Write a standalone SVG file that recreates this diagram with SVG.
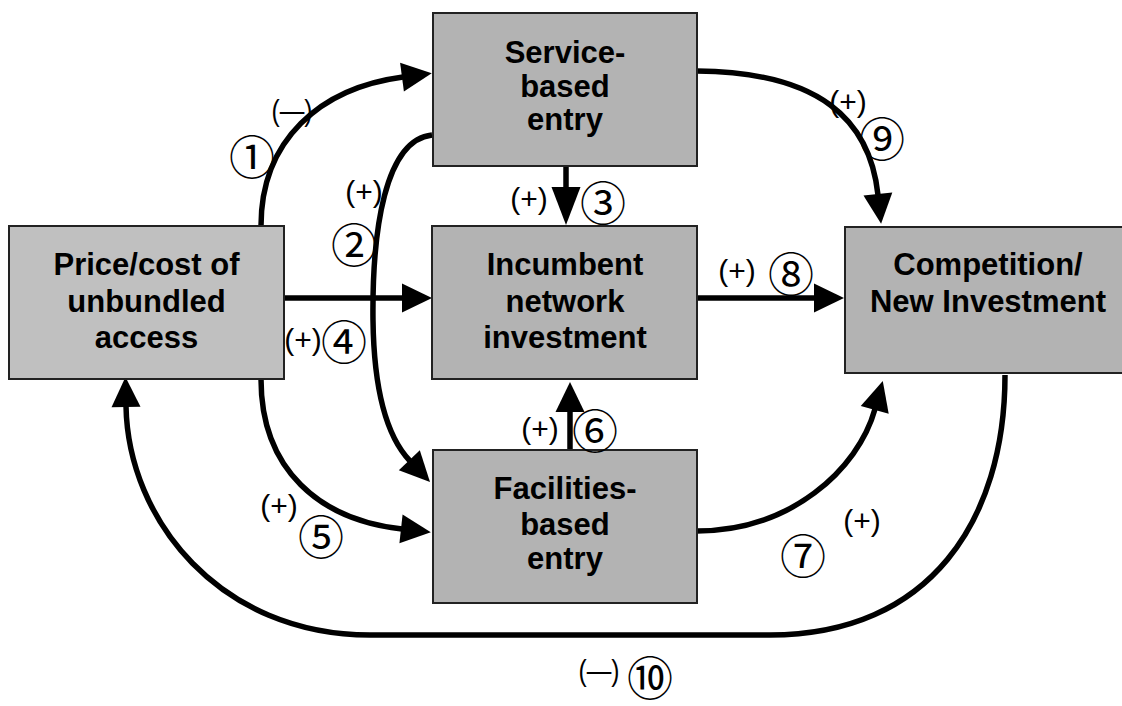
<svg xmlns="http://www.w3.org/2000/svg" width="1122" height="706" viewBox="0 0 1122 706">
<style>
.box{stroke:#222;stroke-width:2}
.dark{fill:#b3b3b3}
.light{fill:#c0c0c0}
.bt{font-family:"Liberation Sans",Arial,sans-serif;font-weight:bold;font-size:31px;fill:#000;text-anchor:middle}
.conn{fill:none;stroke:#000;stroke-width:5.5}
.sg{font-family:"Liberation Sans",Arial,sans-serif;font-size:30px;fill:#000;text-anchor:middle;dominant-baseline:central}
.cd{font-family:"Noto Sans CJK JP","DejaVu Sans",sans-serif;font-size:46px;fill:#000;text-anchor:middle;dominant-baseline:central}
</style>
<defs>
<marker id="ah" markerUnits="userSpaceOnUse" markerWidth="32" markerHeight="30" refX="1" refY="14.5" orient="auto" overflow="visible">
<path d="M0,0 L30,14.5 L0,29 z" fill="#000"/>
</marker>
<marker id="ahl" markerUnits="userSpaceOnUse" markerWidth="40" markerHeight="30" refX="1" refY="14.5" orient="auto" overflow="visible">
<path d="M0,0 L38,14.5 L0,29 z" fill="#000"/>
</marker>
</defs>
<rect width="1122" height="706" fill="#fff"/>
<g id="connectors">
<path id="c1" class="conn" d="M261,226 C261,140 320,88 403,77" marker-end="url(#ah)"/>
<path id="c2" class="conn" d="M432,135 C385,140 372,230 373,320 C374,400 390,440 410,461" marker-end="url(#ah)"/>
<path id="c3" class="conn" d="M566,166 L566,188" marker-end="url(#ahl)"/>
<path id="c4" class="conn" d="M284,298 L403,298" marker-end="url(#ah)"/>
<path id="c5" class="conn" d="M261,379 C261,470 320,520 402,529" marker-end="url(#ah)"/>
<path id="c6" class="conn" d="M570,450 L570,411" marker-end="url(#ah)"/>
<path id="c7" class="conn" d="M697,531 C790,531 858,470 875,409" marker-end="url(#ah)"/>
<path id="c8" class="conn" d="M697,298 L815,298" marker-end="url(#ah)"/>
<path id="c9" class="conn" d="M697,71 C820,72 870,120 878,195" marker-end="url(#ah)"/>
<path id="c10" class="conn" d="M1005,375 C1005,520 930,635 770,635 L370,635 C220,635 128,520 126,406" marker-end="url(#ah)"/>
</g>
<g id="node-service">
<rect class="box dark" x="433" y="13" width="264" height="153"/>
<text class="bt" x="565" y="63">Service-</text>
<text class="bt" x="565" y="97">based</text>
<text class="bt" x="565" y="130">entry</text>
</g>
<g id="node-price">
<rect class="box light" x="9" y="226" width="275" height="153"/>
<text class="bt" x="146.5" y="275">Price/cost of</text>
<text class="bt" x="146.5" y="312">unbundled</text>
<text class="bt" x="146.5" y="348">access</text>
</g>
<g id="node-incumbent">
<rect class="box dark" x="432" y="226" width="265" height="153"/>
<text class="bt" x="565" y="275">Incumbent</text>
<text class="bt" x="565" y="312">network</text>
<text class="bt" x="565" y="348">investment</text>
</g>
<g id="node-competition">
<rect class="box dark" x="845" y="227" width="290" height="146"/>
<text class="bt" x="988" y="275">Competition/</text>
<text class="bt" x="988" y="312">New Investment</text>
</g>
<g id="node-facilities">
<rect class="box dark" x="433" y="450" width="264" height="153"/>
<text class="bt" x="565" y="499">Facilities-</text>
<text class="bt" x="565" y="535">based</text>
<text class="bt" x="565" y="569">entry</text>
</g>
<g id="labels">
<text class="sg" x="292" y="110" textLength="41" lengthAdjust="spacingAndGlyphs">(—)</text>
<text class="cd" x="252" y="154">①</text>
<text class="sg" x="364" y="191">(+)</text>
<text class="cd" x="354" y="242">②</text>
<text class="sg" x="529" y="198">(+)</text>
<text class="cd" x="603" y="200">③</text>
<text class="sg" x="303" y="339">(+)</text>
<text class="cd" x="344" y="339">④</text>
<text class="sg" x="279" y="505">(+)</text>
<text class="cd" x="321" y="534">⑤</text>
<text class="sg" x="540" y="428">(+)</text>
<text class="cd" x="595" y="428">⑥</text>
<text class="sg" x="862" y="520">(+)</text>
<text class="cd" x="803" y="553">⑦</text>
<text class="sg" x="737" y="270">(+)</text>
<text class="cd" x="791" y="271">⑧</text>
<text class="sg" x="848" y="101">(+)</text>
<text class="cd" x="882" y="136">⑨</text>
<text class="sg" x="599" y="670" textLength="41" lengthAdjust="spacingAndGlyphs">(—)</text>
<text class="cd" x="650" y="675" font-size="34">⑩</text>
</g>
</svg>
